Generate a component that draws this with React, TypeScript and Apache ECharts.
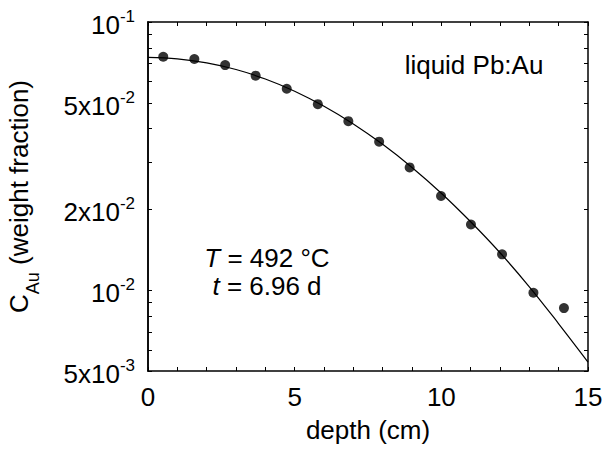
import React, { useEffect, useRef } from "react";
import * as echarts from "echarts";

// Measured points
const depth = [0.52, 1.58, 2.63, 3.67, 4.73, 5.79, 6.83, 7.88, 8.92, 9.99, 11.01, 12.07, 13.14, 14.18];
const conc = [0.0742, 0.0728, 0.0691, 0.0631, 0.0564, 0.0494, 0.0427, 0.0358, 0.0287, 0.02245, 0.01758, 0.01361, 0.00979, 0.00858];

// Fitted curve
const fitDepth = [0, 1, 2, 3, 4, 5, 6, 7, 8, 9, 10, 11, 12, 13, 14, 15];
const fitConc = [0.0738, 0.0729, 0.0704, 0.0665, 0.0613, 0.0552, 0.0485, 0.0417, 0.035, 0.0287, 0.023, 0.018, 0.0138, 0.0103, 0.0075, 0.0054];

// Axis ticks
const yLabelValues = [0.005, 0.01, 0.02, 0.05, 0.1];
const yTickValues = [
  0.005, 0.006, 0.007, 0.008, 0.009,
  0.01, 0.02, 0.03, 0.04, 0.05, 0.06, 0.07, 0.08, 0.09, 0.1,
];
const xMin = 0;
const xMax = 15;
const xInterval = 5;
const yMin = 0.005;
const yMax = 0.1;

const FONT = "'Liberation Sans', Arial, Helvetica, sans-serif";

export default function App() {
  const ref = useRef<HTMLDivElement>(null);

  useEffect(() => {
    document.body.style.margin = "0";
    const chart = echarts.init(ref.current!, null, { renderer: "svg" });
    const lg = (v: number) => Math.log10(v);
    const lgMin = lg(yMin);
    const lgMax = lg(yMax);

    const fmtY = (v: number) => {
      const e = Math.floor(v + 1e-9);
      const m = Math.round(Math.pow(10, v - e));
      const base = (m === 1 ? "" : m + "x") + "10";
      return "{m|" + base + "}{e|" + e + "}";
    };

    const axisLine = { show: true, lineStyle: { color: "#000", width: 1.5 } };
    const tickStyle = { color: "#000", width: 1 };

    chart.setOption({
      animation: false,
      backgroundColor: "#fff",
      textStyle: { fontFamily: FONT },
      grid: { left: 148, right: 15, top: 22, bottom: 79, containLabel: false, outerBoundsMode: "none" },
      xAxis: [
        {
          type: "value",
          position: "bottom",
          min: xMin,
          max: xMax,
          interval: xInterval,
          axisLine,
          axisTick: { show: true, inside: true, length: 4, lineStyle: tickStyle },
          minorTick: { show: true, splitNumber: 5, length: 4, lineStyle: tickStyle },
          splitLine: { show: false },
          axisLabel: { color: "#000", fontSize: 26, fontFamily: FONT, margin: 13 },
          name: "depth (cm)",
          nameLocation: "middle",
          nameGap: 46,
          nameMoveOverlap: false,
          nameTextStyle: { color: "#000", fontSize: 26, fontFamily: FONT },
        },
        {
          type: "value",
          position: "top",
          min: xMin,
          max: xMax,
          interval: xInterval,
          axisLine,
          axisTick: { show: true, inside: true, length: 4, lineStyle: tickStyle },
          minorTick: { show: true, splitNumber: 5, length: 4, lineStyle: tickStyle },
          splitLine: { show: false },
          axisLabel: { show: false },
        },
      ],
      yAxis: [
        {
          type: "log",
          logBase: 10,
          position: "left",
          min: yMin,
          max: yMax,
          axisLine,
          axisTick: { show: false },
          axisLabel: { show: false },
          splitLine: { show: false },
          minorTick: { show: false },
          minorSplitLine: { show: false },
        },
        {
          type: "value",
          position: "left",
          min: lgMin,
          max: lgMax,
          axisLine,
          axisTick: {
            show: true,
            inside: true,
            length: 4,
            lineStyle: tickStyle,
            customValues: yTickValues.map(lg),
          },
          splitLine: { show: false },
          axisLabel: {
            show: true,
            customValues: yLabelValues.map(lg),
            formatter: fmtY,
            margin: 13,
            padding: [6, 0, 0, 0],
            color: "#000",
            fontFamily: FONT,
            rich: {
              m: { fontSize: 26, lineHeight: 34, color: "#000", fontFamily: FONT },
              e: { fontSize: 17, lineHeight: 17, verticalAlign: "top", color: "#000", fontFamily: FONT },
            },
          },
          name: "{a|C}{s|Au}{a| (weight fraction)}",
          nameLocation: "middle",
          nameRotate: 90,
          nameGap: 106,
          nameMoveOverlap: false,
          nameTextStyle: {
            color: "#000",
            fontFamily: FONT,
            rich: {
              a: { fontSize: 26, lineHeight: 26, verticalAlign: "top", color: "#000", fontFamily: FONT },
              s: { fontSize: 18, lineHeight: 36, verticalAlign: "bottom", color: "#000", fontFamily: FONT },
            },
          },
        },
        {
          type: "value",
          position: "right",
          min: lgMin,
          max: lgMax,
          axisLine,
          axisTick: {
            show: true,
            inside: true,
            length: 4,
            lineStyle: tickStyle,
            customValues: yTickValues.map(lg),
          },
          splitLine: { show: false },
          axisLabel: { show: false },
        },
      ],
      graphic: [
        {
          type: "text",
          x: 474,
          y: 65,
          style: {
            text: "liquid Pb:Au",
            fill: "#000",
            fontSize: 26,
            fontFamily: FONT,
            textAlign: "center",
            textVerticalAlign: "middle",
          },
        },
        {
          type: "text",
          x: 267,
          y: 258,
          style: {
            text: "{i|T} = 492 °C",
            fill: "#000",
            fontSize: 26,
            fontFamily: FONT,
            textAlign: "center",
            textVerticalAlign: "middle",
            rich: { i: { fontStyle: "italic", fontSize: 26, fontFamily: FONT, fill: "#000" } },
          },
        },
        {
          type: "text",
          x: 267,
          y: 286,
          style: {
            text: "{i|t} = 6.96 d",
            fill: "#000",
            fontSize: 26,
            fontFamily: FONT,
            textAlign: "center",
            textVerticalAlign: "middle",
            rich: { i: { fontStyle: "italic", fontSize: 26, fontFamily: FONT, fill: "#000" } },
          },
        },
      ],
      series: [
        {
          type: "line",
          name: "fit",
          xAxisIndex: 0,
          yAxisIndex: 0,
          data: fitDepth.map((x, i) => [x, fitConc[i]]),
          smooth: 0.4,
          showSymbol: false,
          symbol: "none",
          lineStyle: { color: "#000", width: 1.2 },
          z: 2,
          silent: true,
        },
        {
          type: "scatter",
          name: "data",
          xAxisIndex: 0,
          yAxisIndex: 0,
          data: depth.map((x, i) => [x, conc[i]]),
          symbol: "circle",
          symbolSize: 10,
          itemStyle: { color: "#000" },
          z: 3,
        },
      ],
    });
    return () => chart.dispose();
  }, []);

  return <div ref={ref} style={{ width: 603, height: 450 }} />;
}
